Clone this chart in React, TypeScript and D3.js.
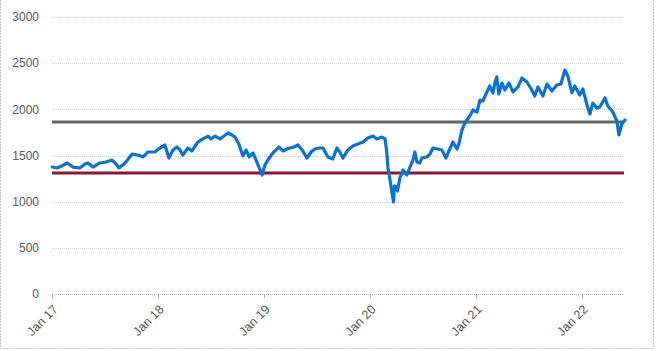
import React from "react";
import * as d3 from "d3";

const dates: string[] = [
  "2017-01-02","2017-01-18","2017-02-03","2017-02-22","2017-03-14","2017-04-07","2017-04-25","2017-05-05","2017-05-22","2017-06-15",
  "2017-07-06","2017-07-27","2017-08-10","2017-08-20","2017-09-10","2017-10-04","2017-10-24","2017-11-11","2017-11-28","2017-12-22",
  "2018-01-08","2018-01-25","2018-02-08","2018-02-22","2018-03-08","2018-03-18","2018-03-28","2018-04-15","2018-04-28","2018-05-19",
  "2018-06-05","2018-06-23","2018-07-03","2018-07-17","2018-08-03","2018-08-17","2018-08-31","2018-09-13","2018-09-24","2018-10-07",
  "2018-10-21","2018-11-01","2018-11-11","2018-11-25","2018-12-08","2018-12-19","2018-12-26","2019-01-05","2019-01-15","2019-01-29",
  "2019-02-12","2019-02-22","2019-03-08","2019-03-22","2019-04-01","2019-04-15","2019-04-29","2019-05-13","2019-05-30","2019-06-13",
  "2019-06-26","2019-07-10","2019-07-24","2019-08-10","2019-08-27","2019-09-10","2019-09-20","2019-10-01","2019-10-18","2019-11-04",
  "2019-11-21","2019-12-09","2019-12-26","2020-01-12","2020-01-26","2020-02-12","2020-02-23","2020-02-28","2020-03-04","2020-03-11",
  "2020-03-23","2020-03-26","2020-04-01","2020-04-06","2020-04-14","2020-04-25","2020-05-08","2020-05-19","2020-05-29","2020-06-05",
  "2020-06-12","2020-06-22","2020-06-29","2020-07-16","2020-07-27","2020-08-06","2020-08-23","2020-09-06","2020-09-20","2020-09-30",
  "2020-10-14","2020-10-28","2020-11-04","2020-11-14","2020-11-24","2020-12-11","2020-12-22","2021-01-05","2021-01-15","2021-01-25",
  "2021-02-08","2021-02-18","2021-03-01","2021-03-08","2021-03-14","2021-03-21","2021-04-01","2021-04-11","2021-04-25","2021-05-09",
  "2021-05-26","2021-06-09","2021-06-26","2021-07-13","2021-07-23","2021-08-03","2021-08-20","2021-09-03","2021-09-20","2021-10-07",
  "2021-10-21","2021-11-04","2021-11-14","2021-11-28","2021-12-08","2021-12-25","2022-01-05","2022-01-19","2022-01-29","2022-02-08",
  "2022-02-22","2022-03-04","2022-03-22","2022-04-01","2022-04-18","2022-05-02","2022-05-09","2022-05-19","2022-05-30"
];

const values: number[] = [
  1375,1365,1386,1419,1375,1365,1408,1419,1375,1419,
  1430,1451,1408,1365,1419,1516,1505,1484,1538,1538,
  1581,1614,1473,1560,1592,1560,1505,1581,1549,1646,
  1679,1711,1679,1711,1679,1711,1744,1722,1700,1625,
  1495,1560,1484,1527,1430,1343,1289,1397,1451,1516,
  1560,1592,1549,1570,1581,1592,1614,1560,1473,1538,
  1570,1581,1581,1484,1462,1581,1538,1473,1560,1603,
  1625,1646,1690,1711,1679,1700,1679,1560,1365,1235,
  996,1170,1159,1115,1256,1343,1289,1375,1451,1538,
  1430,1419,1473,1484,1516,1581,1570,1560,1473,1549,
  1646,1570,1635,1776,1852,1928,1993,1971,2101,2090,
  2188,2253,2177,2296,2350,2166,2285,2209,2285,2188,
  2242,2339,2296,2209,2144,2242,2144,2274,2199,2263,
  2274,2426,2361,2177,2253,2155,2220,2047,1949,2068,
  2014,2025,2123,2036,1971,1874,1722,1841,1884
];

const yTicks: number[] = [0, 500, 1000, 1500, 2000, 2500, 3000];
const xTickYears: number[] = [2017, 2018, 2019, 2020, 2021, 2022];
const xTickLabels: string[] = ["Jan 17", "Jan 18", "Jan 19", "Jan 20", "Jan 21", "Jan 22"];
const refGray = 1863;
const refRed = 1310;

export default function App() {
  const W = 657, H = 351;
  const parse = d3.timeParse("%Y-%m-%d");
  const data = dates.map((d, i) => ({ date: parse(d) as Date, value: values[i] }));
  const x = d3.scaleTime()
    .domain([new Date(2017, 0, 1), new Date(2022, 4, 30)])
    .range([52, 625]);
  const y = d3.scaleLinear().domain([0, 3000]).range([294, 17]);
  const line = d3.line<{ date: Date; value: number }>()
    .x(d => x(d.date))
    .y(d => y(d.value));
  const font = "'Liberation Sans', Arial, sans-serif";
  const textColor = "#595959";
  const gridEnd = 624;
  return (
    <svg width={W} height={H} style={{ position: "absolute", left: 0, top: 0 }}>
      <rect x={0} y={0} width={W} height={H} fill="#fff" />
      {/* outer frame */}
      <line x1={0.5} y1={0} x2={0.5} y2={348.5} stroke="#c0c0c0" strokeDasharray="2 1" />
      <line x1={0.5} y1={348.5} x2={653.5} y2={348.5} stroke="#c0c0c0" strokeDasharray="2 1" />
      <line x1={653.5} y1={0} x2={653.5} y2={348.5} stroke="#c0c0c0" strokeDasharray="2 1" />
      {/* gridlines */}
      {yTicks.map(t => (
        <line key={t} x1={52} x2={gridEnd} y1={Math.round(y(t)) + 0.5} y2={Math.round(y(t)) + 0.5}
          stroke={t === 0 ? "#b0b0b0" : "#cfcfcf"} strokeDasharray="1 1" strokeWidth={1} />
      ))}
      {/* y labels */}
      {yTicks.map(t => (
        <text key={"l" + t} x={39} y={y(t)} dy="0.35em" textAnchor="end"
          fontFamily={font} fontSize={12} fill={textColor}>{t}</text>
      ))}
      {/* x ticks + labels */}
      {xTickYears.map((yr, i) => {
        const tx = Math.round(x(new Date(yr, 0, 1))) + 0.5;
        return (
          <g key={yr}>
            <line x1={tx} x2={tx} y1={294} y2={298} stroke="#b0b0b0" />
            <text transform={`translate(${tx + 3},${307}) rotate(-45)`} textAnchor="end"
              dy="0.35em" fontFamily={font} fontSize={12.5} fill={textColor}>{xTickLabels[i]}</text>
          </g>
        );
      })}
      {/* reference lines */}
      <line x1={52} x2={gridEnd} y1={y(refRed)} y2={y(refRed)} stroke="#8a1538" strokeWidth={3} />
      <line x1={52} x2={gridEnd} y1={y(refGray)} y2={y(refGray)} stroke="#666666" strokeWidth={3} />
      {/* series */}
      <path d={line(data) || ""} fill="none" stroke="#0b72d1" strokeWidth={3.2} strokeLinejoin="round" strokeLinecap="round" />
    </svg>
  );
}
